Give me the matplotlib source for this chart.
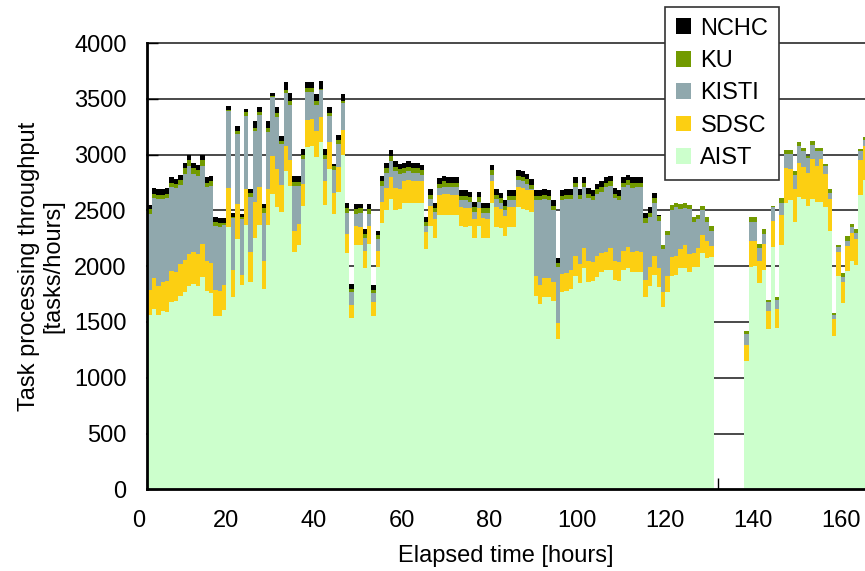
import matplotlib
matplotlib.use('Agg')
from matplotlib import pyplot as plt
from matplotlib.ticker import MultipleLocator
from matplotlib.transforms import ScaledTranslation
import numpy as np

plt.rcParams['font.family'] = ['Liberation Sans', 'DejaVu Sans']

# hours with data (no data between 129 and 135)
hours = list(range(0, 129)) + list(range(136, 164))

# tasks/hour per site
aist = [1560, 1620, 1560, 1600, 1590, 1680, 1690, 1730, 1770, 1820,
        1840, 1820, 1900, 1780, 1760, 1550, 1550, 1610, 2350, 1720,
        2240, 1830, 2370, 1860, 2250, 2370, 1800, 2370, 2650, 2530,
        2490, 2850, 2720, 2130, 2190, 2540, 3070, 3080, 2980, 3110,
        2550, 2870, 2470, 2670, 3000, 2120, 1540, 2190, 2190, 1980,
        2200, 1550, 1990, 2390, 2500, 2600, 2500, 2510, 2570, 2570,
        2570, 2570, 2570, 2150, 2360, 2250, 2460, 2460, 2460, 2460,
        2460, 2360, 2350, 2360, 2250, 2360, 2250, 2250, 2570, 2350,
        2340, 2270, 2350, 2350, 2530, 2510, 2500, 2490, 1730, 1660,
        1720, 1720, 1690, 1350, 1770, 1780, 1800, 1910, 1850, 1980,
        1860, 1870, 1900, 1950, 1970, 1970, 1880, 1870, 1970, 1980,
        1950, 1950, 1950, 1720, 1820, 1920, 1810, 1630, 1770, 1910,
        1920, 1980, 1980, 1950, 1990, 1990, 2120, 2070, 2080,
        1150, 1990, 2000, 1850, 1970, 1440, 2170, 1450, 2190, 2570,
        2590, 2400, 2620, 2600, 2540, 2600, 2580, 2580, 2530, 2320,
        1370, 1910, 1670, 1960, 2050, 2010, 2640, 2770]

sdsc = [230, 270, 260, 260, 280, 280, 260, 290, 290, 290,
        290, 290, 300, 270, 270, 240, 230, 220, 350, 250,
        320, 90, 320, 270, 330, 340, 250, 320, 340, 340,
        240, 230, 230, 185, 185, 200, 240, 240, 230, 230,
        210, 240, 190, 220, 220, 170, 110, 170, 160, 160,
        160, 130, 150, 190, 200, 200, 200, 180, 190, 200,
        190, 190, 190, 160, 180, 170, 180, 190, 190, 180,
        180, 170, 170, 160, 170, 160, 180, 170, 190, 180,
        170, 180, 180, 180, 180, 190, 180, 190, 180, 170,
        170, 170, 170, 140, 160, 160, 170, 180, 170, 180,
        190, 170, 190, 170, 160, 190, 170, 170, 170, 190,
        180, 190, 180, 160, 170, 170, 170, 140, 140, 170,
        170, 170, 210, 160, 130, 170, 160, 160, 100,
        140, 240, 230, 200, 230, 160, 240, 170, 270, 310,
        280, 290, 310, 290, 300, 360, 320, 380, 300, 280,
        160, 220, 190, 220, 250, 230, 310, 310]

kisti = [680, 720, 780, 740, 740, 750, 750, 710, 770, 790,
         700, 700, 700, 660, 690, 570, 570, 540, 690, 460,
         630, 500, 660, 490, 630, 650, 430, 510, 530, 470,
         370, 470, 500, 400, 340, 220, 250, 240, 240, 240,
         200, 240, 200, 210, 240, 190, 120, 110, 130, 110,
         110, 80, 100, 140, 140, 140, 150, 140, 80, 80,
         80, 80, 60, 50, 60, 70, 60, 60, 60, 70,
         70, 60, 70, 60, 70, 60, 50, 60, 60, 70,
         60, 50, 60, 60, 60, 60, 60, 10, 680, 760,
         710, 700, 640, 500, 660, 660, 630, 620, 580, 550,
         560, 550, 560, 550, 580, 560, 560, 550, 570, 560,
         570, 570, 580, 510, 450, 480, 430, 380, 370, 420,
         440, 360, 330, 400, 280, 260, 220, 170, 140,
         100, 170, 170, 110, 90, 80, 120, 80, 110, 130,
         140, 130, 150, 140, 130, 130, 130, 70, 70, 60,
         30, 40, 40, 50, 50, 60, 80, 50]

ku = [40, 40, 40, 40, 40, 40, 40, 40, 50, 50,
      50, 50, 50, 40, 40, 40, 40, 20, 10, 10,
      20, 20, 30, 40, 30, 20, 40, 40, 10, 30,
      20, 30, 30, 40, 40, 40, 40, 40, 30, 10,
      40, 20, 40, 30, 20, 40, 30, 40, 40, 40,
      40, 30, 40, 40, 40, 50, 40, 40, 40, 40,
      40, 40, 40, 40, 40, 30, 40, 50, 40, 40,
      40, 40, 40, 40, 40, 40, 40, 40, 40, 40,
      40, 40, 40, 40, 40, 40, 40, 40, 40, 40,
      40, 40, 40, 40, 40, 40, 40, 40, 40, 40,
      40, 40, 40, 40, 40, 40, 40, 40, 40, 40,
      50, 40, 40, 40, 40, 40, 40, 40, 40, 50,
      40, 50, 50, 40, 40, 40, 40, 40, 40,
      30, 40, 40, 40, 40, 20, 10, 20, 40, 30,
      30, 30, 30, 30, 20, 30, 30, 30, 20, 30,
      20, 20, 40, 40, 30, 30, 20, 30]

nchc = [40, 50, 50, 50, 50, 50, 40, 50, 50, 50,
        50, 50, 50, 50, 50, 40, 40, 40, 40, 40,
        50, 30, 30, 30, 60, 50, 40, 60, 20, 60,
        50, 70, 70, 50, 50, 50, 50, 50, 60, 70,
        50, 60, 20, 50, 60, 50, 40, 50, 40, 40,
        50, 40, 40, 50, 50, 50, 50, 50, 50, 50,
        50, 50, 50, 40, 50, 50, 50, 50, 50, 50,
        50, 50, 50, 50, 50, 50, 50, 50, 50, 50,
        50, 50, 50, 50, 50, 50, 50, 50, 50, 50,
        50, 50, 50, 40, 50, 50, 50, 50, 50, 50,
        50, 50, 50, 50, 50, 50, 50, 50, 50, 50,
        50, 50, 50, 50, 50, 50, 10, 0, 0, 0,
        0, 0, 0, 0, 0, 0, 0, 0, 0,
        0, 0, 0, 0, 0, 0, 0, 0, 0, 0,
        0, 0, 0, 0, 0, 0, 0, 0, 0, 0,
        0, 0, 0, 0, 0, 0, 0, 0]

sites = ['AIST', 'SDSC', 'KISTI', 'KU', 'NCHC']
series = [aist, sdsc, kisti, ku, nchc]
colors = ['#ccffcc', '#fccf12', '#90a8ad', '#729a00', '#000000']

fig = plt.figure(figsize=(8.65, 5.71), dpi=100)
ax = fig.add_axes([0.1705, 0.1431, 0.8295, 0.7813])

# stacked hourly bars
bottom = np.zeros(len(hours))
handles = []
for name, vals, c in zip(sites, series, colors):
    b = ax.bar(hours, vals, width=1.0, align='edge', bottom=bottom,
               color=c, linewidth=0, label=name, zorder=2)
    handles.append(b)
    bottom = bottom + np.array(vals)

ax.set_xlim(0, 163.5)
ax.set_ylim(0, 4000)

# horizontal grid behind the bars
for yv in range(500, 4001, 500):
    ax.axhline(yv, color='#3a3a3a', linewidth=1.3, zorder=1, clip_on=False)

ax.spines['top'].set_visible(False)
ax.spines['right'].set_visible(False)
ax.spines['left'].set_linewidth(2)
ax.spines['bottom'].set_linewidth(2)
ax.spines['left'].set_zorder(3)
ax.spines['bottom'].set_zorder(3)

ax.xaxis.set_major_locator(MultipleLocator(20))
ax.xaxis.set_minor_locator(MultipleLocator(10))
ax.yaxis.set_major_locator(MultipleLocator(500))
ax.tick_params(axis='both', which='both', direction='in', length=8, width=1,
               labelsize=17, pad=15)
ax.tick_params(axis='y', which='both', right=False)
ax.tick_params(axis='x', which='both', top=False)

# x labels sit a little left of their ticks in the original
shift = ScaledTranslation(-9 / 100, 0, fig.dpi_scale_trans)
for lab in ax.get_xticklabels():
    lab.set_transform(lab.get_transform() + shift)

ax.set_xlabel('Elapsed time [hours]', fontsize=17, labelpad=9)
ax.set_ylabel('Task processing throughput\n[tasks/hours]', fontsize=17,
              labelpad=7, linespacing=1.15)

# legend box sits over the top right corner, NCHC first
leg = fig.legend(handles[::-1], sites[::-1], loc='upper left',
                 bbox_to_anchor=(665 / 865, 1 - 7 / 571), fontsize=17,
                 frameon=True, fancybox=False, framealpha=1,
                 edgecolor='#333333', handlelength=0.65, handleheight=0.65,
                 handletextpad=0.4, labelspacing=0.44, borderpad=0.45,
                 borderaxespad=0)
leg.get_frame().set_linewidth(1.2)

plt.savefig('out.png', dpi=100)
